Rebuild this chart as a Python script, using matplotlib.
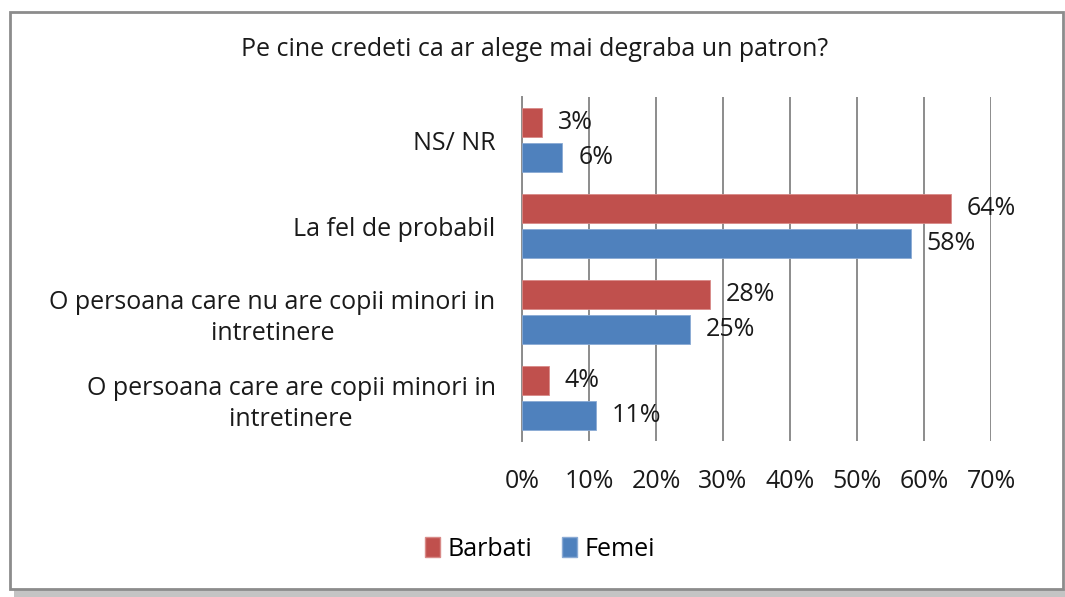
import matplotlib
matplotlib.use("Agg")
import matplotlib.pyplot as plt
from matplotlib.patches import Rectangle, Patch
import numpy as np

title = "Pe cine credeti ca ar alege mai degraba un patron?"
categories = ["NS/ NR", "La fel de probabil",
              "O persoana care nu are copii minori in\nintretinere",
              "O persoana care are copii minori in\nintretinere"]
series_names = ["Barbati", "Femei"]
barbati = [3, 64, 28, 4]
femei = [6, 58, 25, 11]
xticks = [0, 10, 20, 30, 40, 50, 60, 70]

RED = "#C0504D"
BLUE = "#4F81BD"
FONT = "Open Sans"
FS = 18

plt.rcParams['font.family'] = [FONT, 'DejaVu Sans']

W, H = 1065, 597
fig = plt.figure(figsize=(W / 100, H / 100), dpi=100)

# frame shadow and border
fig.patches.append(Rectangle((14 / W, 0), (W - 14) / W, (597 - 589) / H,
                             transform=fig.transFigure, facecolor="#c4c4c4",
                             edgecolor="none", zorder=-3))
fig.patches.append(Rectangle((10 / W, 1 - 589 / H), 1053 / W, 577 / H,
                             transform=fig.transFigure, facecolor="white",
                             edgecolor="#8c8c8c", linewidth=2, zorder=-2))

ax = fig.add_axes([522 / W, 1 - 441 / H, (991 - 522) / W, (441 - 97) / H])
ax.set_facecolor("none")
ax.set_zorder(2)

y = np.arange(len(categories))
h = 0.33
off = 0.205
ax.barh(y - off, barbati, height=h, color=RED, edgecolor="#d88a88",
        linewidth=0.6, zorder=3, label=series_names[0])
ax.barh(y + off, femei, height=h, color=BLUE, edgecolor="#8aaad4",
        linewidth=0.6, zorder=3, label=series_names[1])

for yy, v in zip(y - off, barbati):
    ax.text(v + 2.4, yy, f"{v}%", va="center", ha="left", fontsize=FS, color="#1a1a1a")
for yy, v in zip(y + off, femei):
    ax.text(v + 2.4, yy, f"{v}%", va="center", ha="left", fontsize=FS, color="#1a1a1a")

ax.set_xlim(0, 70)
ax.set_ylim(3.5, -0.5)
ax.set_xticks(xticks)
ax.set_xticklabels([f"{t}%" for t in xticks], fontsize=FS, color="#1a1a1a")
ax.tick_params(axis="x", length=0, pad=20)
ax.set_yticks(y)
ax.set_yticklabels(categories, fontsize=FS, color="#1a1a1a", multialignment="center",
                   linespacing=1.3)
ax.tick_params(axis="y", length=0, pad=19)
ax.grid(axis="x", color="#8c8c8c", linewidth=1.4, zorder=0)
for s in ["top", "right", "bottom"]:
    ax.spines[s].set_visible(False)
ax.spines["left"].set_color("#8c8c8c")
ax.spines["left"].set_linewidth(1.4)

fig.text(535 / W, 1 - 50 / H, title, ha="center", va="center", fontsize=FS, color="#1a1a1a")

handles = [Patch(facecolor=RED, edgecolor="#d88a88"), Patch(facecolor=BLUE, edgecolor="#8aaad4")]
fig.legend(handles, series_names, loc="center", bbox_to_anchor=(540 / W, 1 - 549 / H),
           ncol=2, frameon=False, fontsize=FS, handlelength=0.6, handleheight=0.9,
           handletextpad=0.3, columnspacing=1.2)

fig.savefig("out.png", dpi=100)
